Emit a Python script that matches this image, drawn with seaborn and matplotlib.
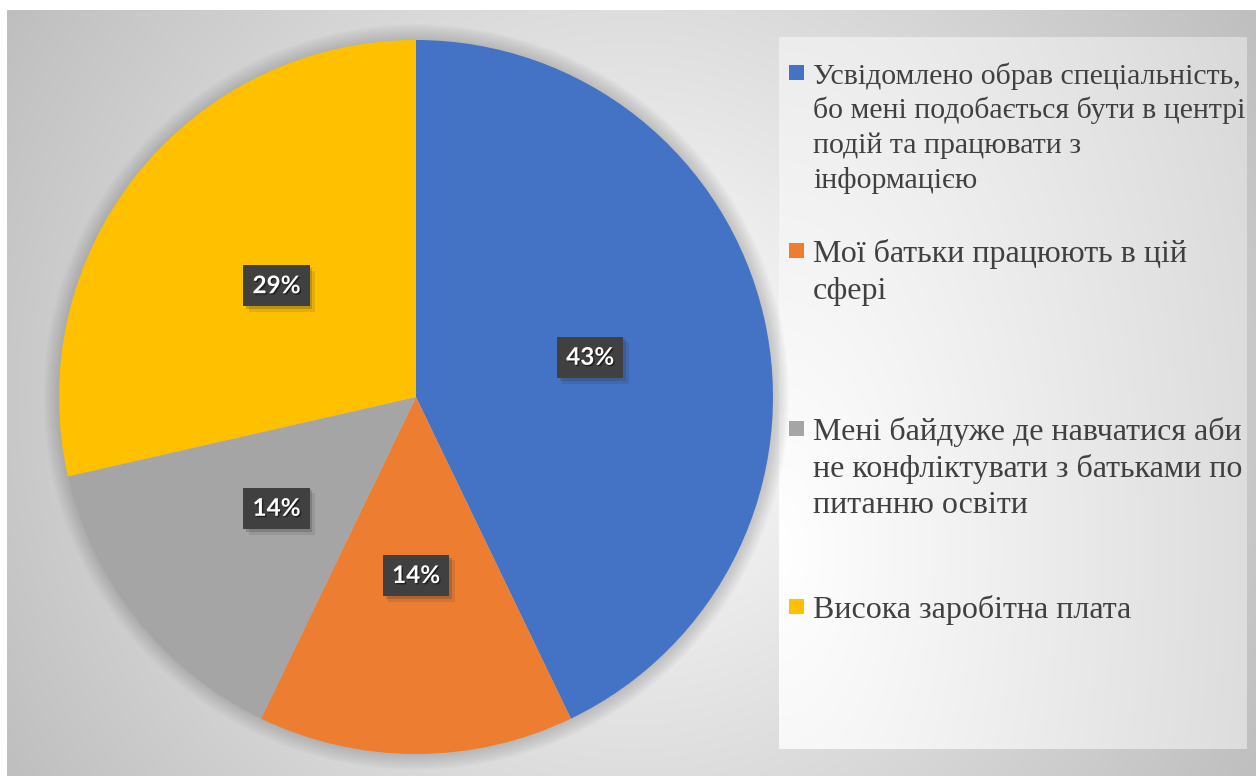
import numpy as np
import matplotlib.pyplot as plt
import seaborn as sns
from matplotlib import patheffects as pe
from matplotlib.patches import Rectangle, Circle

# data
labels = [
    "Усвідомлено обрав спеціальність,\nбо мені подобається бути в центрі\nподій та працювати з\nінформацією",
    "Мої батьки працюють в цій\nсфері",
    "Мені байдуже де навчатися аби\nне конфліктувати з батьками по\nпитанню освіти",
    "Висока заробітна плата",
]
values = [3, 1, 1, 2]
colors = ["#4472C4", "#ED7D31", "#A5A5A5", "#FFC000"]

sns.set_theme(style="white")
plt.rcParams['font.family'] = ['Liberation Serif', 'DejaVu Serif']

W, H = 1256, 776
fig = plt.figure(figsize=(W / 100, H / 100), dpi=100)
fig.patch.set_facecolor('white')

# radial gradient background of the chart area
bg = fig.add_axes([7 / W, 0, (W - 7) / W, (H - 10) / H])
bg.axis('off')
yy, xx = np.mgrid[0:766, 0:1249]
d = np.hypot(xx - 625, yy - 385)
g = np.clip((255 - 0.088 * d) / 255, 0, 1)
bg.imshow(np.dstack([g, g, g]), aspect='auto', extent=[0, 1, 0, 1])
bg.set_xlim(0, 1)
bg.set_ylim(0, 1)

# legend panel
lg = fig.add_axes([779 / W, (H - 749) / H, 468 / W, 712 / H])
lg.axis('off')
ly, lx = np.mgrid[0:712, 0:468]
ld = np.hypot(lx, (ly - 513) / 2)
lgv = np.clip((255 - 0.072 * ld) / 255, 0, 1)
lg.imshow(np.dstack([lgv, lgv, lgv]), aspect='auto', extent=[0, 1, 0, 1])
lg.set_xlim(0, 1)
lg.set_ylim(0, 1)

# pie
R = 357
cx, cy = 416, 397
ax = fig.add_axes([(cx - R) / W, (H - cy - R) / H, 2 * R / W, 2 * R / H])
ax.patch.set_alpha(0)

for k in range(1, 12):
    ax.add_patch(Circle((0, 0), 1 + 0.004 * k, color='#707070', alpha=0.03,
                        lw=0, zorder=0, clip_on=False))

wedges, texts, autotexts = ax.pie(
    values, colors=colors, startangle=90, counterclock=False,
    autopct='%1.0f%%', pctdistance=0.5,
    wedgeprops=dict(linewidth=0),
    textprops=dict(color='white', fontfamily=['Lato', 'DejaVu Sans'],
                   fontweight='bold', fontsize=17.5),
)
for t in autotexts:
    t.set_bbox(dict(boxstyle='square,pad=0.38', facecolor='#404040',
                    edgecolor='none', linewidth=0))
    t.get_bbox_patch().set_path_effects([
        pe.SimplePatchShadow(offset=(4, -4), shadow_rgbFace='#303030', alpha=0.12),
        pe.SimplePatchShadow(offset=(2, -2), shadow_rgbFace='#303030', alpha=0.22),
        pe.Normal()])
    t.set_path_effects([pe.withSimplePatchShadow(offset=(1, -1), shadow_rgbFace='black', alpha=0.5)])
ax.set_xlim(-1, 1)
ax.set_ylim(-1, 1)
ax.axis('off')

# legend entries
text_x = 813
first_base = 84
entry_step = 178
sizes = [21.5, 23, 23, 23]
steps = [34.5, 36.5, 36.5, 36.5]
for i, (lab, col) in enumerate(zip(labels, colors)):
    base = first_base + i * entry_step
    fig.patches.append(Rectangle((789 / W, 1 - (base - 4) / H), 15 / W, 15 / H,
                                 transform=fig.transFigure, facecolor=col,
                                 edgecolor='none'))
    for j, line in enumerate(lab.split('\n')):
        fig.text(text_x / W, 1 - (base + j * steps[i]) / H, line,
                 fontsize=sizes[i], color='#404040', va='baseline', ha='left')

fig.savefig('out.png', dpi=100, facecolor='white')
